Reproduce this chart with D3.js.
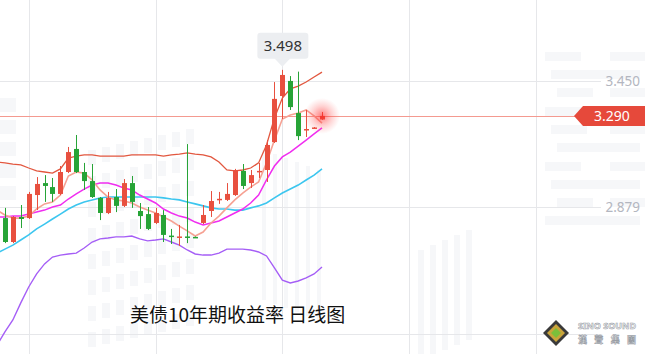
<!DOCTYPE html>
<html>
<head>
<meta charset="utf-8">
<script src="https://d3js.org/d3.v7.min.js"></script>
<style>
	html, body { margin: 0; padding: 0; background: #fff; }
	svg { display: block; font-family: "Noto Sans", "Noto Sans CJK SC", sans-serif; }
</style>
</head>
<body>
<div id="chart"></div>
<script>

// daily candles, US 10y yield
var opens  = [2.888, 2.829, 2.721, 2.834, 2.829, 2.933, 2.987, 2.969, 2.938, 3.037, 3.141, 3.037, 2.996, 2.920, 2.852, 2.924, 2.884, 2.987, 2.861, 2.847, 2.807, 2.843, 2.750, 2.741, 2.746, 2.744, 2.807, 2.861, 2.911, 2.911, 2.933, 3.042, 2.987, 3.037, 3.046, 3.172, 3.380, 3.448, 3.303, 3.227, 3.236, 3.274];
var highs  = [2.902, 2.875, 2.838, 2.888, 2.947, 3.014, 3.023, 3.010, 3.064, 3.150, 3.204, 3.078, 3.073, 2.924, 2.947, 2.960, 3.005, 3.019, 2.897, 2.879, 2.875, 2.865, 2.780, 2.798, 3.163, 2.746, 2.888, 2.951, 2.947, 2.987, 3.051, 3.073, 3.046, 3.078, 3.181, 3.443, 3.498, 3.470, 3.490, 3.317, 3.240, 3.308];
var lows   = [2.820, 2.716, 2.716, 2.784, 2.825, 2.865, 2.902, 2.902, 2.933, 3.032, 3.032, 2.956, 2.920, 2.820, 2.847, 2.856, 2.879, 2.875, 2.780, 2.775, 2.802, 2.721, 2.712, 2.703, 2.716, 2.740, 2.802, 2.834, 2.893, 2.906, 2.929, 2.960, 2.965, 3.010, 2.992, 3.168, 3.276, 3.317, 3.181, 3.195, 3.233, 3.272];
var closes = [2.843, 2.721, 2.834, 2.825, 2.938, 2.983, 2.974, 2.938, 3.037, 3.127, 3.037, 2.996, 2.924, 2.852, 2.920, 2.884, 2.987, 2.902, 2.838, 2.780, 2.852, 2.753, 2.746, 2.746, 2.741, 2.742, 2.843, 2.906, 2.916, 2.938, 3.046, 2.974, 3.023, 3.042, 3.159, 3.367, 3.475, 3.330, 3.199, 3.231, 3.238, 3.290];

// indicator lines
var upperBand = [3.082, 3.078, 3.073, 3.069, 3.055, 3.042, 3.037, 3.032, 3.051, 3.100, 3.109, 3.114, 3.114, 3.109, 3.109, 3.109, 3.109, 3.114, 3.114, 3.114, 3.114, 3.109, 3.114, 3.118, 3.123, 3.118, 3.114, 3.105, 3.082, 3.046, 3.042, 3.046, 3.055, 3.078, 3.159, 3.281, 3.371, 3.412, 3.425, 3.443, 3.466, 3.488];
var lowerBand = [2.256, 2.315, 2.369, 2.446, 2.518, 2.577, 2.622, 2.653, 2.662, 2.667, 2.671, 2.694, 2.721, 2.735, 2.739, 2.744, 2.744, 2.748, 2.735, 2.726, 2.730, 2.735, 2.721, 2.707, 2.685, 2.667, 2.662, 2.662, 2.671, 2.689, 2.689, 2.689, 2.685, 2.676, 2.658, 2.604, 2.549, 2.536, 2.545, 2.559, 2.577, 2.608];
var ma5  = [2.865, 2.843, 2.829, 2.829, 2.838, 2.870, 2.893, 2.902, 2.933, 3.019, 3.037, 3.032, 3.001, 2.956, 2.924, 2.911, 2.906, 2.897, 2.879, 2.865, 2.852, 2.834, 2.816, 2.793, 2.771, 2.748, 2.766, 2.807, 2.838, 2.875, 2.911, 2.942, 2.969, 2.992, 3.078, 3.181, 3.276, 3.294, 3.303, 3.317, 3.290, 3.258];
var ma10 = [2.834, 2.834, 2.838, 2.838, 2.847, 2.856, 2.865, 2.879, 2.888, 2.915, 2.938, 2.960, 2.978, 2.987, 2.987, 2.978, 2.965, 2.956, 2.933, 2.915, 2.897, 2.870, 2.852, 2.838, 2.829, 2.811, 2.798, 2.807, 2.816, 2.834, 2.852, 2.870, 2.897, 2.933, 3.001, 3.064, 3.105, 3.127, 3.154, 3.181, 3.209, 3.236];
var ma20 = [2.671, 2.689, 2.707, 2.730, 2.753, 2.780, 2.802, 2.825, 2.847, 2.870, 2.888, 2.902, 2.911, 2.920, 2.924, 2.924, 2.924, 2.924, 2.924, 2.924, 2.924, 2.920, 2.915, 2.911, 2.902, 2.893, 2.884, 2.875, 2.870, 2.870, 2.865, 2.865, 2.875, 2.884, 2.897, 2.920, 2.942, 2.960, 2.978, 3.001, 3.023, 3.051];

var yTicks = [2.308, 2.879, 3.450];
var yLabels = [2.879, 3.450];	// the bottom one sits under the logo
var xGridIdx = [4, 20, 36, 52, 68];
var lastPrice = 3.290;
var title = "美债10年期收益率 日线图";

var config = {
	width : 645,
	height : 354,
	bodyWidth : 5,
	up : "#e8503f",
	down : "#27a437",
	grid : "#e6e7ea",
	axisText : "#b3b6c0",
	watermark : "#f6f7f9"
};

var svg = d3.select("#chart").append("svg")
	.attr("width", config.width)
	.attr("height", config.height);

var x = d3.scaleLinear().domain([0, 41]).range([-3, 322]);
var y = d3.scaleLinear().domain([2.879, 3.450]).range([207, 80.5]);

var defs = svg.append("defs");
var glow = defs.append("radialGradient").attr("id", "glow");
glow.append("stop").attr("offset", "0%").attr("stop-color", "#ff2020").attr("stop-opacity", 0.6);
glow.append("stop").attr("offset", "55%").attr("stop-color", "#ff4d4d").attr("stop-opacity", 0.25);
glow.append("stop").attr("offset", "100%").attr("stop-color", "#ff6666").attr("stop-opacity", 0);

/* faint building watermark in the background */
var wm = svg.append("g").attr("fill", config.watermark);
for (var c = 0; c < 8; c++) {
	for (var r = 0; r < 8; r++) {
		wm.append("rect")
			.attr("x", 88 + c * 14)
			.attr("y", 150 + r * 26 - c * 3)
			.attr("width", 8).attr("height", 15);
	}
}
for (var r = 0; r < 5; r++) {
	wm.append("rect").attr("x", 0).attr("y", 98 + r * 22).attr("width", 16).attr("height", 14);
}
for (var c = 0; c < 6; c++) {
	wm.append("rect").attr("x", 262 + c * 11).attr("y", 150 + c * 4).attr("width", 4).attr("height", 150);
}
for (var c = 0; c < 5; c++) {
	wm.append("rect").attr("x", 418 + c * 12).attr("y", 250 - c * 5).attr("width", 6).attr("height", 110);
}
[52, 70, 88, 107, 125, 143, 162, 180, 198, 216].forEach(function(yy, r){
	wm.append("rect").attr("x", 545 + (r % 3) * 6).attr("y", yy).attr("width", 36 + (r % 2) * 20).attr("height", 9);
	wm.append("rect").attr("x", 610 - (r % 2) * 10).attr("y", yy).attr("width", 40).attr("height", 9);
});

// grid
svg.append("g").selectAll("line").data(xGridIdx).join("line")
	.attr("x1", function(d){ return Math.round(x(d)) + 0.5; })
	.attr("x2", function(d){ return Math.round(x(d)) + 0.5; })
	.attr("y1", 0).attr("y2", config.height)
	.attr("stroke", config.grid);

svg.append("g").selectAll("line").data(yTicks).join("line")
	.attr("x1", 0).attr("x2", 601)
	.attr("y1", function(d){ return Math.round(y(d)) + 0.5; })
	.attr("y2", function(d){ return Math.round(y(d)) + 0.5; })
	.attr("stroke", config.grid);

svg.append("g").selectAll("text").data(yLabels).join("text")
	.attr("x", 640)
	.attr("y", function(d){ return y(d) + 5; })
	.attr("text-anchor", "end")
	.attr("font-size", "13.5px")
	.attr("fill", config.axisText)
	.text(function(d){ return d.toFixed(3); });

// last price line
svg.append("line")
	.attr("x1", 0).attr("x2", 576)
	.attr("y1", Math.round(y(lastPrice)) + 0.5).attr("y2", Math.round(y(lastPrice)) + 0.5)
	.attr("stroke", "#f49a90");

// indicator lines
var line = d3.line()
	.x(function(d, i){ return x(i); })
	.y(function(d){ return y(d); });

[
	{ data: lowerBand, color: "#a55ef6", w: 1.4 },
	{ data: ma20, color: "#3cc6ef", w: 1.6 },
	{ data: upperBand, color: "#e2573f", w: 1.3 },
	{ data: ma10, color: "#f02ef0", w: 1.5 },
	{ data: ma5, color: "#f6a193", w: 1.6 }
].forEach(function(s){
	svg.append("path")
		.datum(s.data)
		.attr("d", line)
		.attr("fill", "none")
		.attr("stroke", s.color)
		.attr("stroke-width", s.w);
});

// candles
var candles = svg.append("g").selectAll("g").data(closes).join("g")
	.attr("fill", function(d, i){ return d >= opens[i] ? config.up : config.down; })
	.attr("stroke", function(d, i){ return d >= opens[i] ? config.up : config.down; });

candles.append("line")
	.attr("x1", function(d, i){ return Math.round(x(i)) + 0.5; })
	.attr("x2", function(d, i){ return Math.round(x(i)) + 0.5; })
	.attr("y1", function(d, i){ return y(highs[i]); })
	.attr("y2", function(d, i){ return y(lows[i]); })
	.attr("stroke-width", 1);

candles.append("rect")
	.attr("x", function(d, i){ return Math.round(x(i)) - 2; })
	.attr("width", config.bodyWidth)
	.attr("y", function(d, i){ return y(Math.max(d, opens[i])); })
	.attr("height", function(d, i){ return Math.max(1.5, Math.abs(y(d) - y(opens[i]))); })
	.attr("stroke", "none");

// glow on the live candle
var last = closes.length - 1;
svg.append("circle")
	.attr("cx", x(last)).attr("cy", y(lastPrice))
	.attr("r", 18)
	.attr("fill", "url(#glow)");

// price badge
var by = y(lastPrice);
svg.append("path")
	.attr("d", "M574," + by + "L583," + (by - 10) + "L645," + (by - 10) + "L645," + (by + 10) + "L583," + (by + 10) + "Z")
	.attr("fill", "#e6493b");
svg.append("text")
	.attr("x", 612).attr("y", by + 5)
	.attr("text-anchor", "middle")
	.attr("font-size", "14px")
	.attr("fill", "#fff")
	.text(lastPrice.toFixed(3));

// max tooltip
var maxIdx = d3.maxIndex(highs);
var tx = x(maxIdx), ty = y(highs[maxIdx]);
var tip = svg.append("g");
tip.append("rect")
	.attr("x", tx - 25).attr("y", ty - 37)
	.attr("width", 51).attr("height", 26).attr("rx", 3)
	.attr("fill", "#eceef1");
tip.append("path")
	.attr("d", "M" + (tx - 8) + "," + (ty - 11.5) + "L" + (tx + 8) + "," + (ty - 11.5) + "L" + tx + "," + (ty - 3) + "Z")
	.attr("fill", "#eceef1");
tip.append("text")
	.attr("x", tx + 0.5).attr("y", ty - 18.5)
	.attr("text-anchor", "middle")
	.attr("font-size", "15px")
	.attr("fill", "#333")
	.text(highs[maxIdx].toFixed(3));

// title
svg.append("text")
	.attr("x", 130).attr("y", 322)
	.attr("font-family", "'Noto Sans CJK SC', sans-serif")
	.attr("font-size", "19px")
	.attr("fill", "#111")
	.text(title);

// logo
var logo = svg.append("g").attr("transform", "translate(556,333)");
logo.append("path").attr("d", "M0,-13L13,0L0,13L-13,0Z").attr("fill", "#3a3a3a");
logo.append("path").attr("d", "M0,-9L9,0L0,9L-9,0Z").attr("fill", "#c9a43a");
logo.append("path").attr("d", "M0,-5L5,0L0,5L-5,0Z").attr("fill", "#7bbf3a");
logo.append("text")
	.attr("x", 22).attr("y", -4)
	.attr("font-size", "9.5px").attr("font-weight", "bold")
	.attr("textLength", 58).attr("lengthAdjust", "spacingAndGlyphs")
	.attr("fill", "#fff").attr("stroke", "#9a9ea6").attr("stroke-width", 0.6)
	.text("SINO SOUND");
logo.append("text")
	.attr("x", 22).attr("y", 10)
	.attr("font-family", "'Noto Sans CJK TC', sans-serif")
	.attr("font-size", "9px").attr("font-weight", "bold")
	.attr("textLength", 58).attr("lengthAdjust", "spacing")
	.attr("fill", "#fff").attr("stroke", "#9a9ea6").attr("stroke-width", 0.6)
	.text("漢聲集團");

</script>
</body>
</html>
